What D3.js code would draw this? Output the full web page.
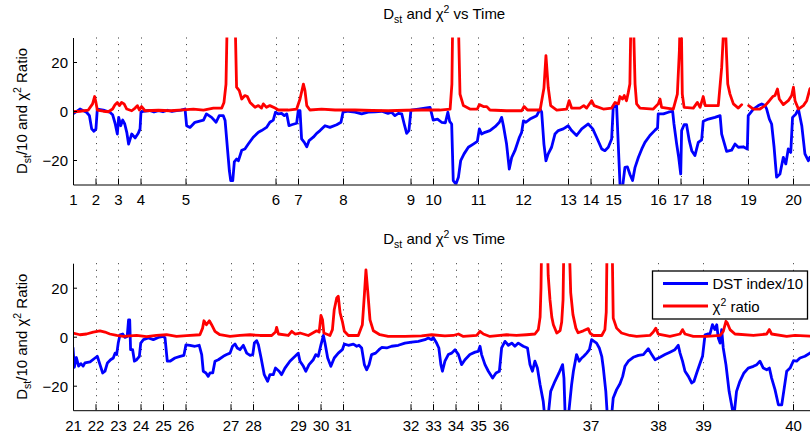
<!DOCTYPE html>
<html>
<head>
<meta charset="utf-8">
<script src="https://cdn.jsdelivr.net/npm/d3@7"></script>
<style>
  body { margin: 0; background: #fff; }
  svg { display: block; font-family: "Liberation Sans", Arial, Helvetica, sans-serif; }
</style>
</head>
<body>
<svg id="chart" width="810" height="437"></svg>
<script>
// Event markers along the time axis (days from the start of each window) and their labels
const topTickPos = [0, 1, 2, 3, 5, 9, 10, 12, 15, 16, 18, 20, 22, 23, 24, 26, 27, 28, 30, 32];
const topTickLabels = ["1","2","3","4","5","6","7","8","9","10","11","12","13","14","15","16","17","18","19","20"];
const botTickPos = [0, 1, 2, 3, 4, 5, 7, 8, 10, 11, 12, 15, 16, 17, 18, 19, 23, 26, 28, 32];
const botTickLabels = ["21","22","23","24","25","26","27","28","29","30","31","32","33","34","35","36","37","38","39","40"];
const yTicks = [-20, 0, 20];

// [day, Dst/10] — first window
const topDst = [[0,-1.2],[0.31,0.8],[0.6,-0.5],[0.73,-1.9],[0.83,-7.3],[0.93,-8.3],[1.02,-7.3],[1.08,0.8],[1.35,0.4],[1.64,-0.5],[1.76,-1.5],[1.87,-5],[1.97,-9.4],[2.03,-2.6],[2.12,-6],[2.21,-3.7],[2.3,-5.3],[2.39,-8.7],[2.47,-13.5],[2.61,-9.4],[2.76,-11],[2.9,-9.1],[2.98,-7.3],[3.02,-0.5],[3.13,-0.1],[3.4,0.2],[3.6,-0.4],[3.8,0.1],[4.0,-0.3],[4.2,0.3],[4.4,-0.2],[4.6,0.2],[4.8,0.4],[4.98,0.8],[5.05,-6],[5.2,-6.7],[5.42,-4.6],[5.8,-3.7],[5.93,-1.2],[6.16,-2.6],[6.36,-4.6],[6.5,-1.9],[6.68,-1.9],[6.76,-3.9],[6.86,-14.8],[6.95,-24.4],[7.01,-28.4],[7.1,-28.4],[7.17,-20.8],[7.27,-19.6],[7.35,-20.3],[7.5,-16],[7.64,-15.5],[7.79,-13.5],[8.01,-10.7],[8.24,-8.7],[8.38,-8],[8.6,-6.7],[8.75,-4.6],[8.9,-3.7],[9.0,-0.5],[9.13,-1.2],[9.27,-1],[9.39,-1.9],[9.5,-1.2],[9.6,-6],[9.72,-5.6],[9.94,-5],[10.01,0.1],[10.09,0.1],[10.16,-11.4],[10.28,-12.8],[10.39,-14.6],[10.49,-12.1],[10.68,-10.7],[10.83,-9.1],[10.98,-8],[11.2,-6],[11.42,-6.7],[11.72,-5.6],[11.91,-4.6],[12.0,-0.5],[12.24,-0.1],[12.53,-0.5],[12.83,-1.2],[13.12,-0.5],[13.42,-0.3],[13.72,-0.1],[14.0,-1],[14.16,-0.5],[14.31,-1.9],[14.46,-1],[14.61,-1.2],[14.72,-5.3],[14.83,-9.1],[14.93,-8],[15.02,0.4],[15.35,0.8],[15.64,1.2],[15.87,1.5],[16.01,-3.7],[16.2,-3.3],[16.38,-4.6],[16.55,-4.8],[16.66,-0.5],[16.74,-4.2],[16.83,-5.3],[16.9,-28.4],[17.02,-29.8],[17.13,-27],[17.23,-20.3],[17.38,-17.5],[17.57,-14.8],[17.79,-13.5],[17.97,-12.4],[18.06,-7.3],[18.16,-9.4],[18.31,-8.7],[18.53,-8],[18.76,-6.4],[18.95,-4.6],[19.05,-2.6],[19.13,-6],[19.27,-13.5],[19.39,-23.7],[19.5,-18.9],[19.64,-16.2],[19.84,-10.7],[19.94,-8.7],[20.02,-4],[20.13,-4.6],[20.31,-3.3],[20.61,-1.9],[20.76,0.8],[20.83,-0.5],[20.93,-13.5],[21.02,-20.3],[21.12,-17.5],[21.27,-14.8],[21.42,-9.4],[21.57,-8],[21.79,-7.3],[22.01,-6],[22.16,-8],[22.38,-10],[22.61,-7.3],[22.9,-5.3],[23.1,-7.3],[23.27,-10.7],[23.5,-15.5],[23.64,-16.2],[23.79,-14.8],[23.94,-11.4],[24.01,1.5],[24.16,2.2],[24.31,-29.8],[24.4,-33],[24.53,-23],[24.64,-22.8],[24.76,-26],[24.87,-28.4],[24.98,-23],[25.13,-18.9],[25.28,-15.5],[25.42,-12.8],[25.64,-10],[25.87,-7.8],[25.98,-6.9],[26.01,-1.2],[26.24,-1.2],[26.46,-0.5],[26.65,-0.1],[26.71,-5.3],[26.83,-13.5],[26.92,-18.9],[27.01,-25.7],[27.05,-8],[27.16,-5.6],[27.27,-5.6],[27.39,-12.1],[27.5,-16.2],[27.64,-18.2],[27.79,-12.8],[27.94,-11.8],[28.01,-4.2],[28.24,-3.3],[28.53,-2.6],[28.76,-1.9],[28.83,-9.4],[29.05,-16.5],[29.27,-16],[29.42,-13.5],[29.57,-14.8],[29.79,-14.6],[29.97,-15.5],[30.01,-1.9],[30.24,0.8],[30.46,2.2],[30.61,2.9],[30.76,2.2],[30.83,0.8],[30.95,-3.3],[31.05,-5.3],[31.16,-14.8],[31.27,-27],[31.42,-25.7],[31.57,-18.9],[31.68,-21.6],[31.79,-15.5],[31.9,-16.9],[31.98,-2.6],[32.13,-1.2],[32.24,0.8],[32.39,-6],[32.53,-17.5],[32.68,-20.3],[32.75,-18.9],[32.9,-20]];

// [day, chi-square ratio] — first window (null marks missing samples)
const topChi = [[0,-0.3],[0.31,-0.1],[0.68,0.4],[0.87,2.9],[0.96,5.9],[1.02,3.5],[1.08,0.4],[1.35,-0.1],[1.57,-0.3],[1.76,0.8],[1.87,2.6],[1.97,3.5],[2.06,2.2],[2.16,3.5],[2.27,2.9],[2.39,0.8],[2.61,0.1],[2.76,1.2],[2.86,2.2],[2.95,0.4],[3.05,1.8],[3.2,0.1],[3.8,0.3],[4.31,0.1],[4.9,0.5],[5.35,0.8],[5.8,0.4],[6.24,1.2],[6.61,1.2],[6.71,3.5],[6.8,11],[6.86,40],[7.2,40],[7.27,9.7],[7.39,8.3],[7.5,4.9],[7.64,6.3],[7.75,5.9],[7.87,3.5],[8.09,1.5],[8.24,2.2],[8.38,1.2],[8.46,2.9],[8.6,1.5],[8.75,2.2],[8.98,1.2],[9.13,0.4],[9.57,0.4],[9.94,0.8],[10.09,4.9],[10.24,11],[10.31,8.3],[10.39,2.2],[10.53,0.4],[11.05,0.8],[11.65,0.4],[12.53,0.4],[13.3,0.2],[14.01,0.1],[14.8,0.3],[15.49,0.4],[16.3,0.4],[16.76,0.8],[16.84,11],[16.88,40],[17.12,40],[17.2,6.9],[17.35,2.2],[17.64,0.8],[17.97,0.8],[18.06,2.6],[18.24,1.8],[18.39,1.8],[18.53,0.4],[19.27,0.1],[19.94,0.1],[20.05,1.8],[20.2,0.4],[20.76,0.4],[20.93,9.3],[21.02,22.6],[21.12,9.7],[21.23,2.2],[21.5,0.4],[21.94,0.8],[22.05,4.2],[22.16,1.2],[22.53,1.2],[22.7,2.2],[22.83,1.2],[23.05,4.2],[23.16,2.2],[23.57,0.8],[23.94,1.2],[24.09,3.5],[24.24,2.9],[24.31,5.9],[24.42,4.9],[24.5,6.3],[24.6,4.2],[24.68,7.6],[24.75,11],[24.8,40],[24.9,40],[24.98,11],[25.05,2.9],[25.2,1.2],[25.79,0.8],[26.01,2.9],[26.09,4.9],[26.16,1.5],[26.68,0.8],[26.86,6.9],[26.95,24.6],[26.99,40],[27.03,40],[27.08,6.9],[27.16,1.5],[27.57,1.2],[27.75,3.5],[27.87,1.5],[28.01,5.9],[28.1,2.2],[28.68,2.2],[28.83,17.8],[28.92,34],[29.0,34],[29.05,22],[29.1,11],[29.2,6.9],[29.35,2.9],[29.57,1.2],[29.72,2.6],[29.8,null],[30.03,2.2],[30.24,0.8],[30.53,0.8],[30.76,2.2],[30.95,4.2],[31.1,5.9],[31.2,6.3],[31.31,9],[31.39,4.9],[31.57,2.6],[31.79,4.2],[31.94,6.3],[32.02,9.7],[32.09,4.2],[32.24,0.8],[32.46,2.2],[32.61,4.2],[32.75,9],[32.85,10]];

// [day, Dst/10] — second window
const botDst = [[0,-4.6],[0.06,-12.5],[0.15,-8.5],[0.25,-12],[0.35,-11],[0.45,-12],[0.53,-10.7],[0.76,-10.3],[0.98,-8.7],[1.08,-8],[1.2,-11.4],[1.32,-14.8],[1.42,-14.1],[1.53,-10.7],[1.67,-9.4],[1.79,-8.7],[1.87,-6.7],[1.94,-7.3],[2.01,-2.6],[2.09,0.8],[2.21,1.1],[2.31,-0.3],[2.41,0.1],[2.47,6.9],[2.52,6.9],[2.56,-5.3],[2.65,-5.3],[2.73,-10],[2.83,-9.4],[2.95,-8],[3.01,-2.6],[3.13,-1.2],[3.35,-0.5],[3.57,-1.2],[3.79,-0.3],[4.01,0.1],[4.09,-0.5],[4.19,-10],[4.31,-10],[4.53,-8.7],[4.76,-8],[4.93,-7.6],[5.02,-3.3],[5.2,-3.5],[5.42,-3.9],[5.61,-3.5],[5.72,-7.3],[5.79,-14.1],[5.91,-14.8],[6.01,-16.2],[6.09,-14.8],[6.21,-14.8],[6.31,-10],[6.46,-9.4],[6.68,-8],[6.83,-7.3],[6.98,-6.7],[7.09,-3.9],[7.2,-3],[7.3,-4.6],[7.42,-5.3],[7.57,-3.5],[7.72,-6.7],[7.87,-7.6],[7.99,-7.3],[8.06,-2.6],[8.16,-1.6],[8.24,-3.3],[8.36,-8.7],[8.5,-15.5],[8.65,-18.2],[8.75,-15.5],[8.9,-15.5],[9.0,-12.8],[9.16,-14.1],[9.27,-15.5],[9.42,-12.8],[9.64,-10],[9.87,-8],[10.01,-6.7],[10.09,-10],[10.24,-12.1],[10.35,-14.1],[10.49,-11.4],[10.68,-9.4],[10.79,-7.3],[10.9,-8],[11.02,-3.3],[11.13,0.5],[11.2,-2.6],[11.32,-8.7],[11.46,-12.1],[11.61,-8.7],[11.79,-6.7],[11.97,-5.3],[12.06,-3],[12.24,-3.5],[12.46,-3],[12.61,-3.9],[12.71,-3.5],[12.83,-4.6],[12.95,-11.4],[13.05,-13.5],[13.16,-11.4],[13.27,-7.3],[13.45,-6.7],[13.6,-5.3],[13.72,-4.4],[13.94,-4.6],[14.16,-3.9],[14.46,-3.5],[14.75,-2.6],[15.05,-2.2],[15.35,-1.9],[15.64,-1.2],[15.79,-0.5],[15.94,-1.2],[16.01,-0.3],[16.16,-2.6],[16.26,-4.6],[16.35,-11.4],[16.42,-14.1],[16.53,-10],[16.68,-7.3],[16.83,-6.7],[16.98,-5.3],[17.13,-7.3],[17.27,-11.4],[17.42,-9.4],[17.64,-7.3],[17.87,-6.3],[18.01,-6],[18.09,-3.9],[18.16,-7.3],[18.31,-11.4],[18.46,-14.1],[18.65,-16.9],[18.8,-14.8],[18.95,-14.1],[19.05,-4.6],[19.2,-1.9],[19.35,-3.5],[19.5,-2.6],[19.64,-3.9],[19.79,-2.6],[20.01,-3.9],[20.2,-4.6],[20.31,-11.4],[20.42,-14.1],[20.53,-10],[20.64,-12.8],[20.76,-19.6],[20.9,-26.4],[20.98,-34],[21.1,-34],[21.23,-22.3],[21.42,-18.2],[21.6,-14.8],[21.76,-11.4],[21.82,-16.9],[21.88,-34],[22.0,-34],[22.16,-19.6],[22.24,-14.1],[22.38,-7.3],[22.5,-10],[22.61,-8.7],[22.7,-8],[22.83,-6.7],[22.95,-5.3],[23.05,-1.2],[23.16,-1.9],[23.27,-2.6],[23.39,-4.6],[23.5,-8],[23.57,-12.8],[23.68,-22.3],[23.76,-34],[23.92,-34],[24.01,-25],[24.16,-21.6],[24.31,-19.2],[24.43,-16.2],[24.53,-12.1],[24.68,-10],[24.9,-8.4],[25.13,-7.6],[25.35,-7.3],[25.57,-4.9],[25.72,-7.3],[25.87,-9.4],[26.09,-8.4],[26.31,-7.3],[26.53,-6.3],[26.75,-5.3],[26.9,-3.5],[26.98,-6.7],[27.09,-10],[27.2,-14.1],[27.35,-16.2],[27.5,-18.9],[27.6,-18.2],[27.72,-14.8],[27.9,-10],[27.98,-8],[28.09,0.8],[28.2,1.1],[28.31,1.1],[28.42,4.9],[28.53,2.9],[28.61,4.9],[28.68,-0.5],[28.76,-2.6],[28.83,2.9],[28.9,-4.6],[29.02,-11.4],[29.16,-22.3],[29.27,-27.8],[29.37,-33],[29.49,-22.3],[29.64,-18.2],[29.82,-14.8],[30.01,-12.8],[30.24,-12.1],[30.39,-11.4],[30.53,-10],[30.68,-12.8],[30.83,-13.5],[30.95,-12.8],[31.05,-16.9],[31.2,-21.6],[31.35,-27.8],[31.5,-27.8],[31.6,-21.6],[31.72,-14.1],[31.87,-12.8],[32.02,-9.8],[32.16,-10],[32.31,-8.7],[32.53,-8],[32.75,-6.7],[32.9,-6]];

// [day, chi-square ratio] — second window
const botChi = [[0,1.5],[0.31,0.8],[0.6,1.1],[0.9,1.9],[1.2,2.4],[1.42,1.9],[1.64,1.1],[1.94,0.5],[2.24,0.1],[2.83,0.5],[3.27,0],[3.71,0.5],[4.16,0.8],[4.6,0.1],[5.05,0.4],[5.64,0.8],[5.76,3.5],[5.82,6.5],[5.93,4.9],[6.06,6.5],[6.16,4.9],[6.31,2.2],[6.53,0.8],[6.98,0.1],[7.42,0.5],[7.87,0.8],[8.31,0.5],[8.83,0.5],[9.0,1.9],[9.05,3.8],[9.13,1.1],[9.57,0.5],[9.72,2.2],[9.87,1.1],[10.09,1.5],[10.46,0.5],[10.83,2.4],[10.94,1.9],[11.02,8.7],[11.09,6.9],[11.15,1.5],[11.42,0.5],[11.53,2.9],[11.61,11],[11.72,15.8],[11.79,16.5],[11.87,9.7],[11.97,6.3],[12.06,2.2],[12.24,0.5],[12.68,0.5],[12.86,4.9],[12.95,17.1],[13.02,27.3],[13.1,18.5],[13.2,6.9],[13.35,2.4],[13.64,0.8],[14.01,0.1],[14.75,0.1],[15.49,0.3],[15.94,0.8],[16.53,0.3],[16.9,0.5],[17.13,1.1],[17.35,0.1],[17.94,0.5],[18.09,2.2],[18.24,1.1],[18.53,0.1],[18.98,0.5],[19.27,0.8],[19.71,0.5],[20.16,0.8],[20.53,1.1],[20.68,2.9],[20.76,8],[20.8,20],[20.83,40],[21.08,40],[21.12,25],[21.2,15],[21.28,8],[21.35,4.9],[21.5,1.5],[21.65,2.5],[21.72,6],[21.78,15],[21.82,40],[22.05,40],[22.12,18],[22.22,9],[22.35,3.5],[22.45,1.6],[22.68,2.4],[22.9,3.3],[22.98,1.5],[23.12,0.5],[23.5,0.5],[23.64,2.9],[23.7,10],[23.74,40],[23.96,40],[24.01,7.6],[24.16,3.5],[24.38,1.5],[24.75,0.5],[25.05,0.1],[25.64,0.5],[25.79,1.9],[25.9,3.5],[26.01,1.1],[26.53,0.1],[26.98,1.1],[27.09,2.9],[27.2,1.1],[27.57,0.1],[28.16,0.1],[28.76,0.5],[28.9,2.2],[29.02,6.3],[29.08,5.6],[29.2,2.9],[29.42,1.1],[30.24,0.5],[30.83,1.1],[30.95,2.9],[31.05,1.1],[31.72,0.1],[32.09,0.5],[32.9,0.2]];

const seriesNames = ["DST index/10", "\u03C7\u00B2 ratio"];
const seriesColors = ["#0000ff", "#ff0000"];

const svg = d3.select("#chart");
const W = 810;
const left = 73, right = 815.5;
const x = d3.scaleLinear().domain([0, 33]).range([left, right]);
const FONT = 15;

// Title / axis label with subscript and superscript parts
function richText(sel, parts) {
  parts.forEach(p => {
    const t = sel.append("tspan").text(p.t);
    if (p.sub) t.attr("font-size", 10.5).attr("dy", 4);
    else if (p.sup) t.attr("font-size", 10.5).attr("dy", -6);
    else if (p.reset) t.attr("dy", p.reset);
  });
}

function drawPanel(top, bottom, tickPos, tickLabels, dst, chi, id) {
  const y = d3.scaleLinear().domain([-30, 30]).range([bottom, top]);
  const g = svg.append("g");

  // Title
  const title = g.append("text")
    .attr("x", (left + right) / 2).attr("y", top - 19)
    .attr("text-anchor", "middle").attr("font-size", FONT).attr("fill", "#000");
  richText(title, [{t: "D"}, {t: "st", sub: true}, {t: " and ", reset: -4}, {t: "\u03C7"}, {t: "2", sup: true}, {t: " vs Time", reset: 6}]);

  // Y label
  const yl = g.append("text")
    .attr("transform", `translate(27,${(top + bottom) / 2}) rotate(-90)`)
    .attr("text-anchor", "middle").attr("font-size", FONT).attr("fill", "#000");
  richText(yl, [{t: "D"}, {t: "st", sub: true}, {t: "/10 and ", reset: -4}, {t: "\u03C7"}, {t: "2", sup: true}, {t: " Ratio", reset: 6}]);

  // Dotted vertical grid at each event marker
  g.append("g").selectAll("line")
    .data(tickPos.filter(d => d > 0))
    .join("line")
    .attr("x1", d => Math.round(x(d)) + 0.5).attr("x2", d => Math.round(x(d)) + 0.5)
    .attr("y1", top).attr("y2", bottom)
    .attr("stroke", "#333").attr("stroke-width", 1)
    .attr("stroke-dasharray", "1,5.6");

  // Clip region for the data lines
  g.append("clipPath").attr("id", "clip" + id)
    .append("rect").attr("x", left).attr("y", top).attr("width", right - left).attr("height", bottom - top);

  const line = d3.line()
    .defined(d => d[1] !== null)
    .x(d => x(d[0])).y(d => y(d[1]));

  const plot = g.append("g").attr("clip-path", `url(#clip${id})`);
  plot.append("path").datum(dst)
    .attr("d", line).attr("fill", "none")
    .attr("stroke", seriesColors[0]).attr("stroke-width", 2.8)
    .attr("stroke-linejoin", "round").attr("stroke-linecap", "round");
  plot.append("path").datum(chi)
    .attr("d", line).attr("fill", "none")
    .attr("stroke", seriesColors[1]).attr("stroke-width", 2.8)
    .attr("stroke-linejoin", "round").attr("stroke-linecap", "round");

  // Axes (ticks point inward)
  const xAxis = d3.axisBottom(x).tickValues(tickPos)
    .tickFormat((d, i) => tickLabels[i])
    .tickSizeInner(-6).tickSizeOuter(0).tickPadding(10);
  const gx = g.append("g").attr("transform", `translate(0,${bottom})`).call(xAxis);
  const yAxis = d3.axisLeft(y).tickValues(yTicks)
    .tickSizeInner(-4).tickSizeOuter(0).tickPadding(5);
  const gy = g.append("g").attr("transform", `translate(${left},0)`).call(yAxis);
  [gx, gy].forEach(a => {
    a.attr("font-size", FONT).attr("font-family", null).attr("color", "#000");
    a.selectAll("text").attr("fill", "#000");
  });
  gy.selectAll(".tick text").attr("dy", "0.36em");
  return y;
}

drawPanel(37.5, 184.5, topTickPos, topTickLabels, topDst, topChi, "a");
drawPanel(263.2, 410.2, botTickPos, botTickLabels, botDst, botChi, "b");

// Legend in the lower panel
const lg = svg.append("g");
lg.append("rect").attr("x", 652.5).attr("y", 271).attr("width", 155).attr("height", 48)
  .attr("fill", "#fff").attr("stroke", "#000").attr("stroke-width", 1.3);
seriesNames.forEach((name, i) => {
  const cy = 283.5 + i * 22.5;
  lg.append("line").attr("x1", 663).attr("x2", 708).attr("y1", cy).attr("y2", cy)
    .attr("stroke", seriesColors[i]).attr("stroke-width", 2.8);
  const t = lg.append("text").attr("x", 712.5).attr("y", cy + 5.5)
    .attr("font-size", FONT).attr("fill", "#000");
  if (i === 0) t.text(name);
  else richText(t, [{t: "\u03C7"}, {t: "2", sup: true}, {t: " ratio", reset: 6}]);
});
</script>
</body>
</html>
